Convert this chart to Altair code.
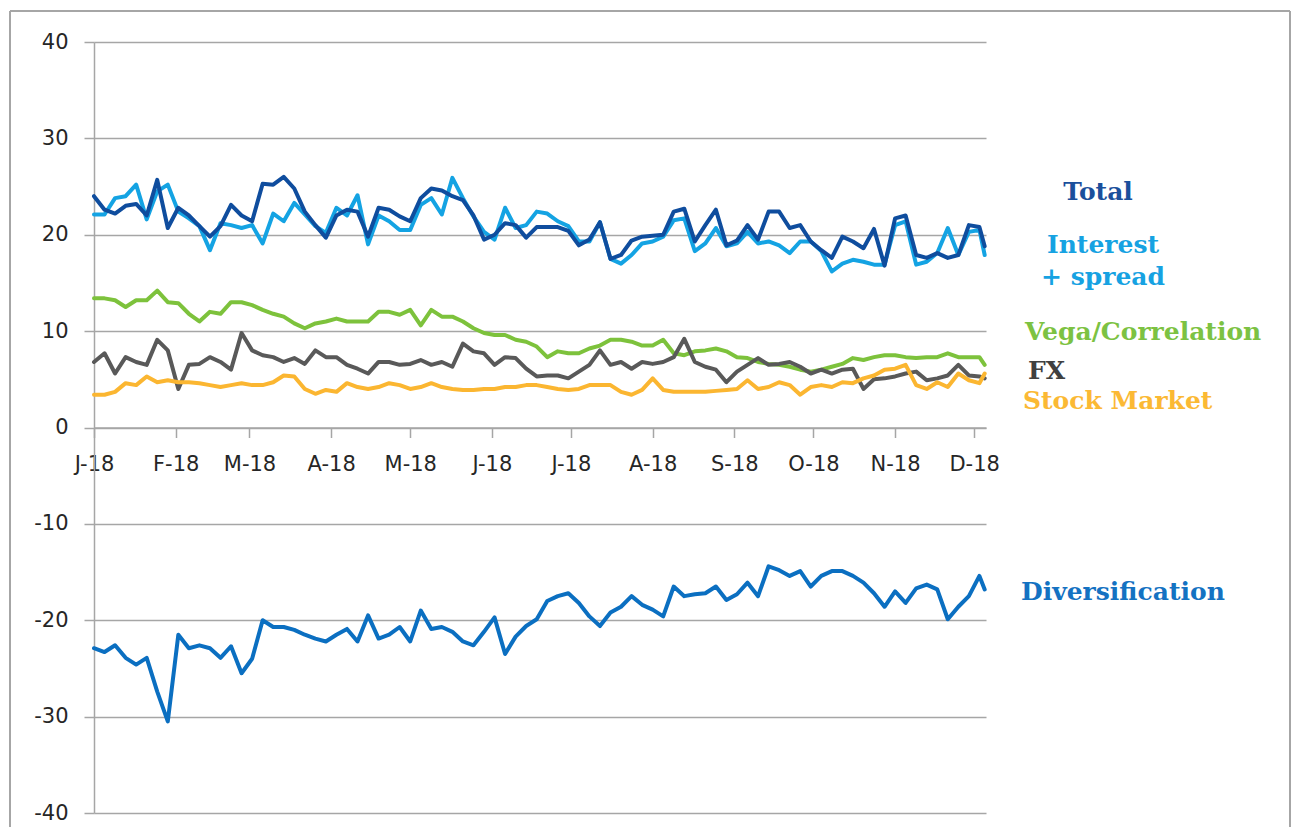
import altair as alt
import pandas as pd

# ---- data (one value every 4 days, last point 5 Dec 2018) ----
dates = pd.date_range("2018-01-01", periods=85, freq="4D").strftime("%Y-%m-%d").tolist() + ["2018-12-05"]

total = [24.0, 22.6, 22.2, 23.0, 23.2, 22.0, 25.7, 20.7, 22.8, 22.0,
         20.9, 19.8, 20.9, 23.1, 22.0, 21.4, 25.3, 25.2, 26.0, 24.8,
         22.4, 21.0, 19.7, 22.0, 22.6, 22.4, 19.8, 22.8, 22.6, 21.9,
         21.4, 23.8, 24.8, 24.6, 24.0, 23.6, 22.0, 19.5, 20.0, 21.2,
         21.0, 19.7, 20.8, 20.8, 20.8, 20.4, 18.9, 19.5, 21.3, 17.5,
         17.9, 19.4, 19.8, 19.9, 20.0, 22.4, 22.7, 19.3, 21.0, 22.6,
         18.9, 19.4, 21.0, 19.5, 22.4, 22.4, 20.7, 21.0, 19.3, 18.4,
         17.6, 19.8, 19.3, 18.6, 20.6, 16.8, 21.7, 22.0, 17.9, 17.6,
         18.1, 17.6, 17.9, 21.0, 20.8, 18.8]

interest = [22.1, 22.1, 23.8, 24.0, 25.2, 21.6, 24.5, 25.2, 22.4, 21.7,
            20.9, 18.4, 21.2, 21.0, 20.7, 21.0, 19.1, 22.2, 21.4, 23.3,
            22.1, 20.9, 20.2, 22.8, 22.0, 24.1, 19.0, 22.0, 21.4, 20.5,
            20.5, 23.1, 23.8, 22.1, 25.9, 23.8, 21.9, 20.3, 19.5, 22.8,
            20.7, 21.0, 22.4, 22.2, 21.4, 20.9, 19.3, 19.3, 21.3, 17.5,
            17.0, 17.9, 19.1, 19.3, 19.8, 21.5, 21.7, 18.3, 19.1, 20.7,
            18.8, 19.1, 20.3, 19.1, 19.3, 18.9, 18.1, 19.3, 19.3, 18.3,
            16.2, 17.0, 17.4, 17.2, 16.9, 16.9, 21.0, 21.4, 16.9, 17.2,
            18.1, 20.7, 17.9, 20.3, 20.5, 17.9]

vega = [13.4, 13.4, 13.2, 12.5, 13.2, 13.2, 14.2, 13.0, 12.9, 11.8,
        11.0, 12.0, 11.8, 13.0, 13.0, 12.7, 12.2, 11.8, 11.5, 10.8,
        10.3, 10.8, 11.0, 11.3, 11.0, 11.0, 11.0, 12.0, 12.0, 11.7,
        12.2, 10.6, 12.2, 11.5, 11.5, 11.0, 10.3, 9.8, 9.6, 9.6,
        9.1, 8.9, 8.4, 7.3, 7.9, 7.7, 7.7, 8.2, 8.5, 9.1,
        9.1, 8.9, 8.5, 8.5, 9.1, 7.7, 7.5, 7.9, 8.0, 8.2,
        7.9, 7.3, 7.2, 6.8, 6.6, 6.5, 6.3, 6.0, 5.8, 6.0,
        6.3, 6.6, 7.2, 7.0, 7.3, 7.5, 7.5, 7.3, 7.2, 7.3,
        7.3, 7.7, 7.3, 7.3, 7.3, 6.5]

fx = [6.8, 7.7, 5.6, 7.3, 6.8, 6.5, 9.1, 8.0, 4.0, 6.5,
      6.6, 7.3, 6.8, 6.0, 9.8, 8.0, 7.5, 7.3, 6.8, 7.2,
      6.6, 8.0, 7.3, 7.3, 6.5, 6.1, 5.6, 6.8, 6.8, 6.5,
      6.6, 7.0, 6.5, 6.8, 6.3, 8.7, 7.9, 7.7, 6.5, 7.3,
      7.2, 6.1, 5.3, 5.4, 5.4, 5.1, 5.8, 6.5, 8.0, 6.5,
      6.8, 6.1, 6.8, 6.6, 6.8, 7.3, 9.2, 6.8, 6.3, 6.0,
      4.7, 5.8, 6.5, 7.2, 6.5, 6.6, 6.8, 6.3, 5.6, 6.0,
      5.6, 6.0, 6.1, 4.0, 5.0, 5.1, 5.3, 5.6, 5.8, 4.9,
      5.1, 5.4, 6.5, 5.4, 5.3, 5.1]

stock = [3.4, 3.4, 3.7, 4.6, 4.4, 5.3, 4.7, 4.9, 4.7, 4.7,
         4.6, 4.4, 4.2, 4.4, 4.6, 4.4, 4.4, 4.7, 5.4, 5.3,
         4.0, 3.5, 3.9, 3.7, 4.6, 4.2, 4.0, 4.2, 4.6, 4.4,
         4.0, 4.2, 4.6, 4.2, 4.0, 3.9, 3.9, 4.0, 4.0, 4.2,
         4.2, 4.4, 4.4, 4.2, 4.0, 3.9, 4.0, 4.4, 4.4, 4.4,
         3.7, 3.4, 3.9, 5.1, 3.9, 3.7, 3.7, 3.7, 3.7, 3.8,
         3.9, 4.0, 4.9, 4.0, 4.2, 4.7, 4.4, 3.4, 4.2, 4.4,
         4.2, 4.7, 4.6, 5.1, 5.4, 6.0, 6.1, 6.5, 4.4, 4.0,
         4.7, 4.2, 5.6, 4.9, 4.6, 5.6]

diversification = [-22.9, -23.3, -22.6, -23.9, -24.6, -23.9, -27.4, -30.5, -21.5, -22.9,
                   -22.6, -22.9, -23.9, -22.7, -25.5, -24.0, -20.0, -20.7, -20.7, -21.0,
                   -21.5, -21.9, -22.2, -21.5, -20.9, -22.2, -19.5, -21.9, -21.5, -20.7,
                   -22.2, -19.0, -20.9, -20.7, -21.2, -22.2, -22.6, -21.2, -19.7, -23.5,
                   -21.7, -20.6, -19.9, -18.0, -17.5, -17.2, -18.2, -19.6, -20.6, -19.2,
                   -18.6, -17.5, -18.4, -18.9, -19.6, -16.5, -17.5, -17.3, -17.2, -16.5,
                   -17.9, -17.3, -16.1, -17.5, -14.4, -14.8, -15.4, -14.9, -16.5, -15.4,
                   -14.9, -14.9, -15.4, -16.1, -17.2, -18.6, -17.0, -18.2, -16.7, -16.3,
                   -16.8, -19.9, -18.6, -17.5, -15.4, -16.8]

# drawing order (back to front)
series_names = ["Interest + spread", "Total", "Vega/Correlation", "FX", "Stock Market", "Diversification"]
series_values = [interest, total, vega, fx, stock, diversification]
series_colors = ["#14a3e3", "#0f4d9e", "#7dc23c", "#595959", "#fbb631", "#0b6fc1"]

y_ticks = [-40, -30, -20, -10, 0, 10, 20, 30, 40]

# right-hand series labels
label_texts = ["Total", "Interest", "+ spread", "Vega/Correlation", "FX", "Stock Market", "Diversification"]
label_colors = ["#1a4f9c", "#16a2e2", "#16a2e2", "#7cc242", "#404040", "#fbb934", "#1472c2"]

# ---- layout (pixels) ----
W, H = 892, 771
label_pos = [(1004, 150, "center"), (1009, 203, "center"), (1009, 235, "center"),
             (931, 290, "left"), (934, 329, "left"), (929, 359, "left"), (927, 550, "left")]

rows = []
for name, vals in zip(series_names, series_values):
    for d, v in zip(dates, vals):
        rows.append({"date": d, "value": v, "series": name})
df = pd.DataFrame(rows)

grid_col = "#a6a6a6"
axis_font = "DejaVu Sans"

x_enc = alt.X(
    "date:T",
    scale=alt.Scale(type="utc", domain=[alt.DateTime(year=2018, month=1, date=1, utc=True),
                                        alt.DateTime(year=2018, month=12, date=5, hours=12, utc=True)]),
    axis=alt.Axis(
        title=None,
        values=[alt.DateTime(year=2018, month=m, date=1, utc=True) for m in range(1, 13)],
        labelExpr="substring(utcFormat(datum.value, '%b'), 0, 1) + '-' + utcFormat(datum.value, '%y')",
        offset=-H / 2,
        grid=False,
        domainColor=grid_col, domainWidth=1.5,
        tickColor=grid_col, tickSize=10, tickWidth=1.5,
        labelFont=axis_font, labelFontSize=21, labelColor="#262626",
        labelPadding=16, labelAlign="center",
    ),
)
y_enc = alt.Y(
    "value:Q",
    scale=alt.Scale(domain=[-40, 40], nice=False, zero=False),
    axis=alt.Axis(
        title=None, values=y_ticks,
        labelExpr="'' + datum.value",
        grid=True, gridColor=grid_col, gridWidth=1.5,
        domainColor=grid_col, domainWidth=1.5,
        tickColor=grid_col, tickSize=10, tickWidth=1.5,
        labelFont=axis_font, labelFontSize=21, labelColor="#262626",
        labelPadding=16,
    ),
)

base = alt.Chart(df).encode(x=x_enc, y=y_enc)

one = pd.DataFrame({"a": [0]})
frame_style = dict(color="#a6a6a6", strokeWidth=2)
layers = [
    alt.Chart(one).mark_rule(**frame_style).encode(x=alt.value(-84), y=alt.value(-31), y2=alt.value(H + 20)),
    alt.Chart(one).mark_rule(**frame_style).encode(x=alt.value(1196), y=alt.value(-31), y2=alt.value(H + 20)),
    alt.Chart(one).mark_rule(**frame_style).encode(x=alt.value(-84), x2=alt.value(1196), y=alt.value(-31)),
]

for name, col in zip(series_names, series_colors):
    layers.append(
        base.transform_filter(alt.datum.series == name).mark_line(
            color=col, strokeWidth=4, strokeJoin="round", strokeCap="round"
        )
    )

for txt, col, (px, py, al) in zip(label_texts, label_colors, label_pos):
    layers.append(
        alt.Chart(pd.DataFrame({"t": [txt]})).mark_text(
            font="DejaVu Serif", fontWeight="bold", fontSize=25, color=col,
            align=al, baseline="middle"
        ).encode(text="t:N", x=alt.value(px), y=alt.value(py))
    )

chart = alt.layer(*layers).properties(
    width=W, height=H,
    autosize=alt.AutoSizeParams(type="none"),
    padding={"left": 86, "top": 34, "right": 305, "bottom": 14},
    background="white",
).configure_view(strokeWidth=0)

chart.save("out.html", embed_options={"renderer": "svg", "actions": False})
